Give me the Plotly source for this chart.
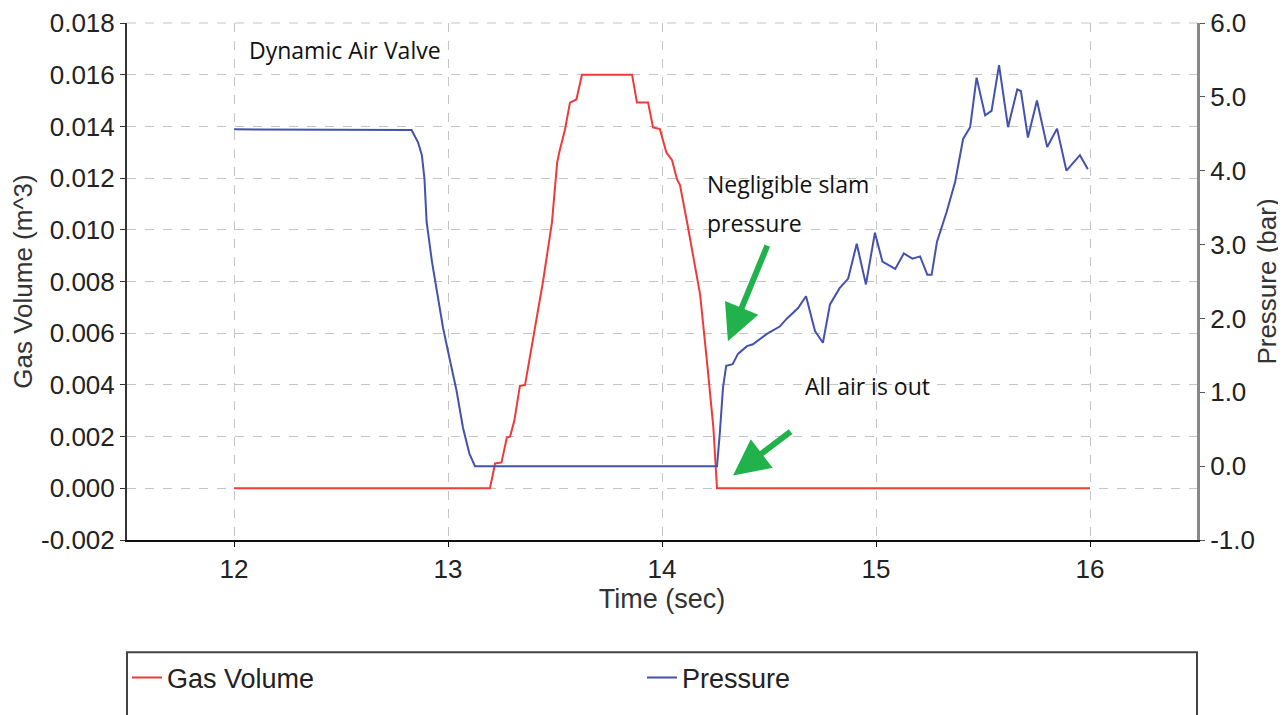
import plotly.graph_objects as go

# gas volume (m^3) vs time
gas_t = [12.0, 13.196, 13.22, 13.25, 13.275, 13.29, 13.31, 13.336, 13.36, 13.40, 13.444, 13.486,
         13.51, 13.52, 13.547, 13.57, 13.60, 13.626, 13.86, 13.883, 13.935, 13.958, 13.99, 14.02,
         14.047, 14.07, 14.084, 14.117, 14.145, 14.178, 14.21, 14.24, 14.257, 16.0]
gas_v = [0, 0, 0.00096, 0.001, 0.00196, 0.002, 0.00262, 0.00396, 0.004, 0.00596, 0.008, 0.0103,
         0.0126, 0.013, 0.01389, 0.01492, 0.01504, 0.016, 0.016, 0.01492, 0.01492, 0.01396, 0.0139, 0.013,
         0.01269, 0.01196, 0.01173, 0.0103, 0.00904, 0.0075, 0.00492, 0.00235, 0, 0]

# pressure (bar) vs time
p_t = [12.0, 12.813, 12.83, 12.86, 12.878, 12.89, 12.90, 12.925, 12.95, 12.977,
       13.01, 13.04, 13.07, 13.10, 13.126, 14.257, 14.27, 14.285, 14.30, 14.33,
       14.355, 14.397, 14.425, 14.49, 14.55, 14.584, 14.636, 14.673, 14.715, 14.752,
       14.785, 14.83, 14.87, 14.91, 14.953, 14.995, 15.03, 15.09, 15.13, 15.17,
       15.206, 15.24, 15.26, 15.285, 15.33, 15.37, 15.407, 15.44, 15.47, 15.51,
       15.54, 15.575, 15.617, 15.66, 15.677, 15.71, 15.752, 15.80, 15.846, 15.89,
       15.953, 15.99]
p_v = [4.56, 4.56, 4.55, 4.385, 4.21, 3.89, 3.31, 2.77, 2.325, 1.87,
       1.42, 1.02, 0.52, 0.17, 0.0, 0.0, 0.44, 1.06, 1.36, 1.38,
       1.52, 1.625, 1.65, 1.79, 1.89, 2.0, 2.14, 2.30, 1.83, 1.67,
       2.19, 2.41, 2.54, 3.01, 2.46, 3.16, 2.77, 2.67, 2.88, 2.81,
       2.84, 2.59, 2.59, 3.04, 3.44, 3.85, 4.43, 4.59, 5.26, 4.75,
       4.81, 5.43, 4.59, 5.10, 5.08, 4.45, 4.95, 4.32, 4.57, 4.0,
       4.21, 4.02]

# axis tick labels
x_ticks = [12, 13, 14, 15, 16]
vol_ticks = [-0.002, 0.0, 0.002, 0.004, 0.006, 0.008, 0.010, 0.012, 0.014, 0.016, 0.018]
vol_labels = ['-0.002', '0.000', '0.002', '0.004', '0.006', '0.008', '0.010', '0.012',
              '0.014', '0.016', '0.018']
pres_ticks = [-1, 0, 1, 2, 3, 4, 5, 6]
pres_labels = ['-1.0', '0.0', '1.0', '2.0', '3.0', '4.0', '5.0', '6.0']

tick_font = dict(family='Liberation Sans, Arial', size=26, color='#222')
title_font = dict(family='Liberation Sans, Arial', size=26, color='#333')
note_font = dict(family='Open Sans', size=23, color='#111')
green = '#22b24c'
grid = '#c4c4c4'

fig = go.Figure()
fig.add_trace(go.Scatter(x=gas_t, y=gas_v, mode='lines', name='Gas Volume',
                         line=dict(color='#f03a3a', width=2)))
fig.add_trace(go.Scatter(x=p_t, y=p_v, mode='lines', name='Pressure', yaxis='y2',
                         line=dict(color='#4352ad', width=2)))

# page body has an 8px margin, so the figure is sized and offset for it
fig.update_layout(
    width=1278, height=707,
    margin=dict(l=119, r=89, t=15, b=175),
    plot_bgcolor='white', paper_bgcolor='white',
    showlegend=True,
    legend=dict(orientation='h', x=0, xanchor='left', y=-0.267, yanchor='middle',
                font=tick_font | dict(size=27), entrywidth=470, entrywidthmode='pixels',
                bgcolor='rgba(0,0,0,0)'),
    xaxis=dict(range=[11.5, 16.5], tickvals=x_ticks, tickfont=tick_font, automargin=False,
               title=dict(text='Time (sec)', font=title_font | dict(size=27), standoff=6),
               showline=True, linecolor='#111', linewidth=2, ticks='outside', ticklen=5,
               tickcolor='#111', showgrid=True, gridcolor=grid, griddash='dash',
               zeroline=False),
    yaxis=dict(range=[-0.002, 0.018], tickvals=vol_ticks, ticktext=vol_labels, tickfont=tick_font,
               automargin=False, ticklabeloverflow='allow',
               title=dict(text='Gas Volume (m^3)', font=title_font, standoff=12),
               showline=True, linecolor='#333', linewidth=2, ticks='outside', ticklen=5,
               tickcolor='#333', showgrid=True, gridcolor=grid, griddash='dash',
               zeroline=False),
    yaxis2=dict(range=[-1, 6], tickvals=pres_ticks, ticktext=pres_labels, tickfont=tick_font,
                overlaying='y', side='right', automargin=False, ticklabeloverflow='allow',
                title=dict(text='Pressure (bar)', font=title_font, standoff=4),
                showline=True, linecolor='#888', linewidth=3, ticks='outside', ticklen=5,
                tickcolor='#555', showgrid=False, zeroline=False),
    shapes=[
        dict(type='line', xref='paper', yref='paper', x0=0, x1=1, y0=1, y1=1,
             line=dict(color=grid, width=1, dash='dash')),
        dict(type='rect', xref='paper', yref='paper', x0=0, x1=1, y0=-0.345, y1=-0.217,
             line=dict(color='#444', width=2), fillcolor='rgba(0,0,0,0)'),
    ],
    annotations=[
        dict(x=12.06, y=0.01696, text='Dynamic Air Valve', showarrow=False,
             xanchor='left', yanchor='middle', font=note_font),
        dict(x=14.2, y=0.01177, text='Negligible slam', showarrow=False,
             xanchor='left', yanchor='middle', font=note_font),
        dict(x=14.2, y=0.01027, text='pressure', showarrow=False,
             xanchor='left', yanchor='middle', font=note_font),
        dict(x=14.659, y=0.00396, text='All air is out', showarrow=False,
             xanchor='left', yanchor='middle', font=note_font),
        dict(x=14.308, y=0.00569, text='', showarrow=True, ax=40, ay=-97,
             arrowhead=2, arrowsize=1.2, arrowwidth=6, arrowcolor=green),
        dict(x=14.332, y=0.0005, text='', showarrow=True, ax=59, ay=-45,
             arrowhead=2, arrowsize=1.2, arrowwidth=6, arrowcolor=green),
    ],
)

fig.write_html('out.html')
